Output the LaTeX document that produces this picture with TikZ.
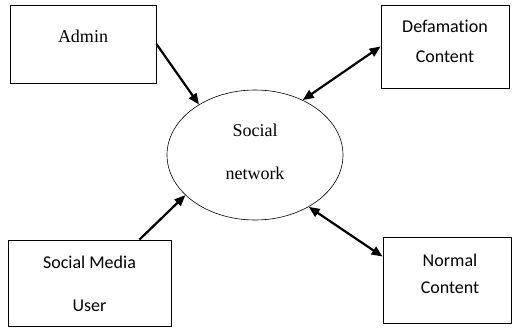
\documentclass[tikz,border=0pt]{standalone}
\usepackage{fontspec}
\setmainfont{Liberation Serif}
\newfontfamily\calibri[Ligatures=NoCommon]{Carlito}
\usetikzlibrary{arrows.meta,shapes.geometric}
\begin{document}
\begin{tikzpicture}[x=1pt,y=-1pt,
  box/.style={draw, line width=0.9pt, inner sep=0pt, rectangle},
  serif/.style={anchor=base, inner sep=0pt, font=\fontsize{18}{22}\selectfont},
  sans/.style={anchor=base, inner sep=0pt, font=\calibri\fontsize{18}{22}\selectfont},
  conn/.style={line width=2.2pt},
  tip/.style={-{Triangle[length=11pt,width=9pt]}},
  dtip/.style={{Triangle[length=11pt,width=9pt]}-{Triangle[length=11pt,width=9pt]}}]
\useasboundingbox (0,0) rectangle (513,329);
\fill[white] (0,0) rectangle (513,329);
\node[box, minimum width=146pt, minimum height=78pt] (admin) at (83,44) {};
\node[box, minimum width=128pt, minimum height=83pt] (defam) at (445,46.5) {};
\node[box, minimum width=163pt, minimum height=86pt] (smu) at (89.5,283) {};
\node[box, minimum width=128pt, minimum height=86pt] (normal) at (447,280) {};
\node[draw, ellipse, line width=0.6pt, inner sep=0pt, minimum width=176pt, minimum height=130pt] (sn) at (255,155) {};
\node[serif] (tadmin) at (83,43) {Admin};
\node[sans] (tdef1) at (445,33) {Defamation};
\node[sans] (tdef2) at (445,62) {Content};
\node[serif] (tsn1) at (255,136) {Social};
\node[serif] (tsn2) at (255,179) {network};
\node[sans] (tsmu1) at (89.5,268) {Social Media};
\node[sans] (tsmu2) at (89.5,311) {User};
\node[sans] (tnor1) at (450,266) {Normal};
\node[sans] (tnor2) at (450,293) {Content};
\draw[conn, tip] (admin.east) -- (sn.138);
\draw[conn, dtip] (sn.49) -- (defam.west);
\draw[conn, tip] (smu.41.6) -- (sn.210);
\draw[conn, dtip] (sn.-44) -- (normal.160);
\end{tikzpicture}
\end{document}
